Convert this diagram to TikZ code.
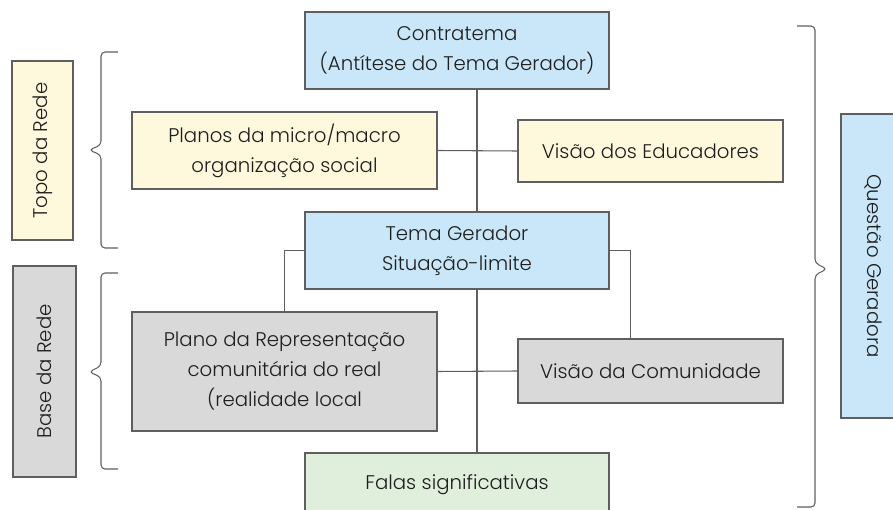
\documentclass[tikz,border=0pt]{standalone}
\usepackage{fontspec}
\setmainfont{Poppins}[UprightFont=* Light]
\usepackage{tikz}
\usetikzlibrary{calc}

\definecolor{boxblue}{RGB}{201,231,248}
\definecolor{boxyellow}{RGB}{254,249,220}
\definecolor{boxgray}{RGB}{217,217,217}
\definecolor{boxgreen}{RGB}{224,238,220}
\definecolor{edgegray}{RGB}{95,95,95}
\definecolor{textgray}{RGB}{30,30,30}

\tikzset{
  netbox/.style={draw=edgegray, line width=0.8pt, align=center, inner sep=2pt,
    text=textgray, font=\fontsize{14.8}{22.5}\selectfont},
  link/.style={draw=edgegray, line width=0.8pt},
  bracket/.style={draw=edgegray, line width=0.8pt, rounded corners=3pt}
}

\begin{document}
\begin{tikzpicture}[x=0.75pt,y=0.75pt,yscale=-1]
	\clip (0,0) rectangle (893,510);
	
	%Shape: Rectangle [contratema]
	\node [netbox, fill=boxblue, minimum width=228pt, minimum height=57.75pt] (contra) at (457,50.5) {Contratema\\(Antítese do Tema Gerador)};
	%Shape: Rectangle [planos]
	\node [netbox, fill=boxyellow, minimum width=228.75pt, minimum height=57.75pt] (planos) at (284.5,150.5) {Planos da micro/macro\\organização social};
	%Shape: Rectangle [educadores]
	\node [netbox, fill=boxyellow, minimum width=198.75pt, minimum height=46.5pt] (educ) at (650.5,151) {Visão dos Educadores};
	%Shape: Rectangle [tema]
	\node [netbox, fill=boxblue, minimum width=228pt, minimum height=57.75pt] (tema) at (457,250.5) {Tema Gerador\\Situação-limite};
	%Shape: Rectangle [representacao]
	\node [netbox, fill=boxgray, minimum width=228.75pt, minimum height=89.25pt] (planorep) at (284.5,371.5) {Plano da Representação\\comunitária do real\\(realidade local};
	%Shape: Rectangle [comunidade]
	\node [netbox, fill=boxgray, minimum width=198.75pt, minimum height=48pt] (comun) at (650.5,371) {Visão da Comunidade};
	%Shape: Rectangle [falas]
	\node [netbox, fill=boxgreen, minimum width=228pt, minimum height=48pt] (falas) at (457,485) {Falas significativas};
	
	%Shape: Rectangle [topo]
	\node [netbox, fill=boxyellow, rotate=90, minimum width=134.25pt, minimum height=45.75pt] (topo) at (42.5,150.5) {Topo da Rede};
	%Shape: Rectangle [base]
	\node [netbox, fill=boxgray, rotate=90, minimum width=158.25pt, minimum height=47.25pt] (base) at (44.5,371.5) {Base da Rede};
	%Shape: Rectangle [questao]
	\node [netbox, fill=boxblue, rotate=-90, minimum width=228pt, minimum height=48pt] (questao) at (873,266) {Questão Geradora};
	
	%Straight Lines [trunk]
	\coordinate (trunk) at (477,0);
	\draw [link] (contra.south -| trunk) -- (tema.north -| trunk);
	\draw [link] (tema.south -| trunk) -- (falas.north -| trunk);
	\draw [link] (planos.east) -- (educ.west);
	\draw [link] (planorep.east) -- (comun.west);
	\draw [link] (tema.west) -| (planorep.north);
	\draw [link] (tema.east) -| ($(comun.north)+(-20,0)$);
	
	%Shape: Brace [topo]
	\draw [bracket] (118,52) -- (101,52) -- (101,145) -- (89,150) -- (101,155) -- (101,248) -- (118,248);
	%Shape: Brace [base]
	\draw [bracket] (118,273) -- (101,273) -- (101,366) -- (89,372) -- (101,377) -- (101,469) -- (118,469);
	%Shape: Brace [questao]
	\draw [bracket] (797,26) -- (815,26) -- (815,263) -- (827,269) -- (815,275) -- (815,507) -- (797,507);
	
\end{tikzpicture}
\end{document}
